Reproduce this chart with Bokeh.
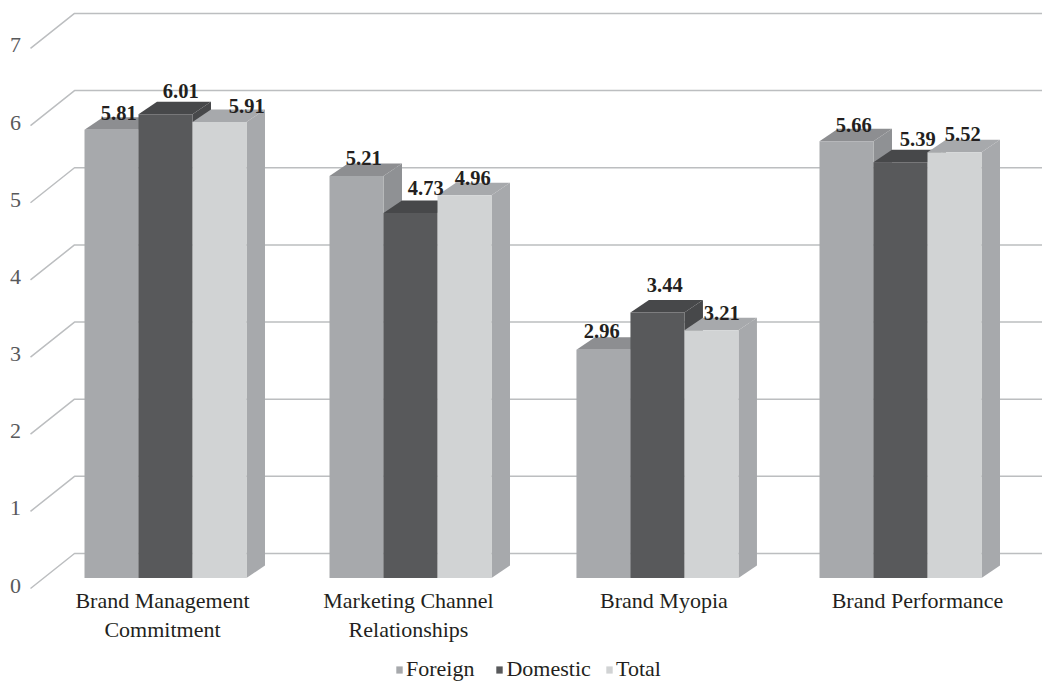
from bokeh.core.properties import value
from bokeh.embed import file_html
from bokeh.models import ColumnDataSource, Legend, LegendItem, Range1d
from bokeh.plotting import figure
from bokeh.resources import INLINE

categories = ["Brand Management\nCommitment", "Marketing Channel\nRelationships", "Brand Myopia", "Brand Performance"]
series_names = ["Foreign", "Domestic", "Total"]
foreign = [5.81, 5.21, 2.96, 5.66]
domestic = [6.01, 4.73, 3.44, 5.39]
total = [5.91, 4.96, 3.21, 5.52]
y_ticks = [0, 1, 2, 3, 4, 5, 6, 7]

# Page layout, in screen pixels
WIDTH, HEIGHT = 1042, 682
PX_PER_GROUP = 245.0
PX_PER_UNIT = 77.15
ORIGIN_X, ORIGIN_Y = 84.0, 577.5
GROUP_SLOTS = [0.0, 1.0, 2.008, 3.0]
BAR_W = 54.0 / PX_PER_GROUP

# Oblique depth of the bars and of the back wall
BAR_DX, BAR_DY = 18.5 / PX_PER_GROUP, 12.5 / PX_PER_UNIT
WALL_LEFT = (74 - ORIGIN_X) / PX_PER_GROUP
WALL_FRONT = (30 - ORIGIN_X) / PX_PER_GROUP
WALL_RIGHT = (WIDTH - ORIGIN_X) / PX_PER_GROUP
WALL_BASE = 24.5 / PX_PER_UNIT
WALL_DROP = 35 / PX_PER_UNIT

FRONT = ["#a7a9ac", "#58595b", "#d1d3d4"]
TOP = ["#8d8e91", "#47484a", "#a7a9ac"]
SIDE = ["#8f9194", "#47484a", "#a7a9ac"]
GRID = "#bcbec0"
SERIF = value("Liberation Serif")

p = figure(
    width=WIDTH, height=HEIGHT, output_backend="svg", toolbar_location=None,
    x_range=Range1d(-ORIGIN_X / PX_PER_GROUP, (WIDTH - ORIGIN_X) / PX_PER_GROUP),
    y_range=Range1d((ORIGIN_Y - HEIGHT) / PX_PER_UNIT, ORIGIN_Y / PX_PER_UNIT),
    min_border=0, outline_line_color=None,
)
p.axis.visible = False
p.grid.visible = False

# Back wall gridlines with their slanted run towards the value labels
for v in y_ticks:
    back = v + WALL_BASE
    p.line([WALL_FRONT, WALL_LEFT, WALL_RIGHT], [back - WALL_DROP, back, back],
           line_color=GRID, line_width=1.5)

p.text([WALL_FRONT - 15 / PX_PER_GROUP] * len(y_ticks),
       [v + WALL_BASE - WALL_DROP + 3 / PX_PER_UNIT for v in y_ticks],
       text=[str(v) for v in y_ticks], text_font=SERIF, text_font_size="22px",
       text_color="#58595b", text_align="center", text_baseline="middle")

# Bars go left to right so that each front face covers its neighbour's side
legend_items = []
for s, (name, values) in enumerate(zip(series_names, [foreign, domestic, total])):
    fx, fy, tx, ty, sx, sy = [], [], [], [], [], []
    for slot, v in zip(GROUP_SLOTS, values):
        x0 = slot + s * BAR_W
        x1 = x0 + BAR_W
        fx.append([x0, x1, x1, x0])
        fy.append([0, 0, v, v])
        tx.append([x0, x1, x1 + BAR_DX, x0 + BAR_DX])
        ty.append([v, v, v + BAR_DY, v + BAR_DY])
        sx.append([x1, x1 + BAR_DX, x1 + BAR_DX, x1])
        sy.append([0, BAR_DY, v + BAR_DY, v])
    p.patches(sx, sy, fill_color=SIDE[s], line_color=None)
    p.patches(tx, ty, fill_color=TOP[s], line_color=None)
    front = p.patches(fx, fy, fill_color=FRONT[s], line_color=None)
    legend_items.append(LegendItem(label=name, renderers=[front]))

# Value labels sit over the top face; offsets keep neighbouring labels apart
label_offset = {
    "Foreign": [(-2, -4), (-2, -6), (-11, -6), (-2, -4)],
    "Domestic": [(6, -11), (6, -13), (-2, -15), (8, -11)],
    "Total": [(18, -4), (-1, -5), (1, -5), (-1, -6)],
}
for s, (name, values) in enumerate(zip(series_names, [foreign, domestic, total])):
    xs = [slot + (s + 0.5) * BAR_W + BAR_DX / 2 for slot in GROUP_SLOTS]
    ys = [v + BAR_DY for v in values]
    src = ColumnDataSource(dict(
        x=xs, y=ys, t=[f"{v:.2f}" for v in values],
        dx=[n[0] for n in label_offset[name]], dy=[n[1] for n in label_offset[name]],
    ))
    p.text("x", "y", text="t", source=src, x_offset="dx", y_offset="dy",
           text_font=SERIF, text_font_style="bold", text_font_size="20.5px",
           text_color="#231f20", text_align="center", text_baseline="middle")

# Category labels below the floor
cat_x = [slot + 1.5 * BAR_W + d / PX_PER_GROUP for slot, d in zip(GROUP_SLOTS, [-3, -2, 6.5, 17])]
p.text(cat_x, [-10 / PX_PER_UNIT] * len(categories), text=categories,
       text_font=SERIF, text_font_size="22px", text_color="#231f20",
       text_align="center", text_baseline="top", text_line_height=1.16)

# Two legend blocks: the last entry sits closer than the even spacing would put it
legend_style = dict(
    orientation="horizontal", background_fill_alpha=0, border_line_color=None,
    padding=0, margin=0, glyph_width=8, glyph_height=9, label_standoff=3, spacing=21,
    label_text_font="Liberation Serif", label_text_font_size="22px",
    label_text_color="#231f20", label_height=20,
)
p.add_layout(Legend(items=legend_items[:2], location=(395, 0), **legend_style), "center")
p.add_layout(Legend(items=legend_items[2:], location=(605, 0), **legend_style), "center")

open("out.html", "w").write(file_html(p, INLINE))
